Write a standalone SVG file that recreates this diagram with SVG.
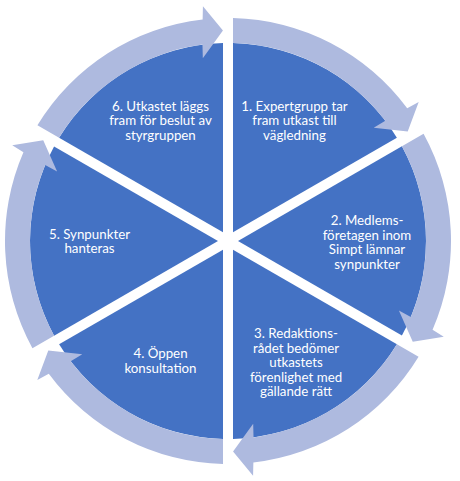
<svg xmlns="http://www.w3.org/2000/svg" xmlns:xlink="http://www.w3.org/1999/xlink" width="460" height="481" viewBox="0 0 460 481">
<style>
.seg{fill:#4472C4;}
.arr{fill:#AEBADF;}
.lbl{font-family:Lato,"Liberation Sans",sans-serif;font-size:13.3px;fill:#FFFFFF;text-anchor:middle;}
</style>
<defs>
<path id="sector" d="M233,232.34 L233,43.06 A198,198 0 0 1 396.9,137.7 Z"/>
<path id="arrow" d="M233,18.06 A223,223 0 0 1 407.2,108.25 L418.7,101.95 L407.7,131.4 L373.7,127.8 L385.3,120.7 A198,198 0 0 0 233,43.06 Z"/>
</defs>
<rect width="460" height="481" fill="#FFFFFF"/>
<g id="node1">
<use xlink:href="#sector" class="seg"/>
<text class="lbl" x="294.5" y="110.7">1. Expertgrupp tar</text>
<text class="lbl" x="294.5" y="125.3">fram utkast till</text>
<text class="lbl" x="294.5" y="140">vägledning</text>
</g>
<g id="node2">
<use xlink:href="#sector" class="seg" transform="rotate(60 228 241)"/>
<text class="lbl" x="367" y="225">2. Medlems-</text>
<text class="lbl" x="367" y="239.6">företagen inom</text>
<text class="lbl" x="367" y="254.2">Simpt lämnar</text>
<text class="lbl" x="367" y="268.8">synpunkter</text>
</g>
<g id="node3">
<use xlink:href="#sector" class="seg" transform="rotate(120 228 241)"/>
<text class="lbl" x="296" y="338">3. Redaktions-</text>
<text class="lbl" x="296" y="352.6">rådet bedömer</text>
<text class="lbl" x="296" y="367.2">utkastets</text>
<text class="lbl" x="296" y="381.8">förenlighet med</text>
<text class="lbl" x="296" y="396.4">gällande rätt</text>
</g>
<g id="node4">
<use xlink:href="#sector" class="seg" transform="rotate(180 228 241)"/>
<text class="lbl" x="160.5" y="358">4. Öppen</text>
<text class="lbl" x="160.5" y="372.6">konsultation</text>
</g>
<g id="node5">
<use xlink:href="#sector" class="seg" transform="rotate(240 228 241)"/>
<text class="lbl" x="89.5" y="238.8">5. Synpunkter</text>
<text class="lbl" x="89.5" y="253.4">hanteras</text>
</g>
<g id="node6">
<use xlink:href="#sector" class="seg" transform="rotate(300 228 241)"/>
<text class="lbl" x="160.5" y="110.7">6. Utkastet läggs</text>
<text class="lbl" x="160.5" y="125.3">fram för beslut av</text>
<text class="lbl" x="160.5" y="140">styrgruppen</text>
</g>
<g id="connectors">
<use xlink:href="#arrow" class="arr"/>
<use xlink:href="#arrow" class="arr" transform="rotate(60 228 241)"/>
<use xlink:href="#arrow" class="arr" transform="rotate(120 228 241)"/>
<use xlink:href="#arrow" class="arr" transform="rotate(180 228 241)"/>
<use xlink:href="#arrow" class="arr" transform="rotate(240 228 241)"/>
<use xlink:href="#arrow" class="arr" transform="rotate(300 228 241)"/>
</g>
</svg>
